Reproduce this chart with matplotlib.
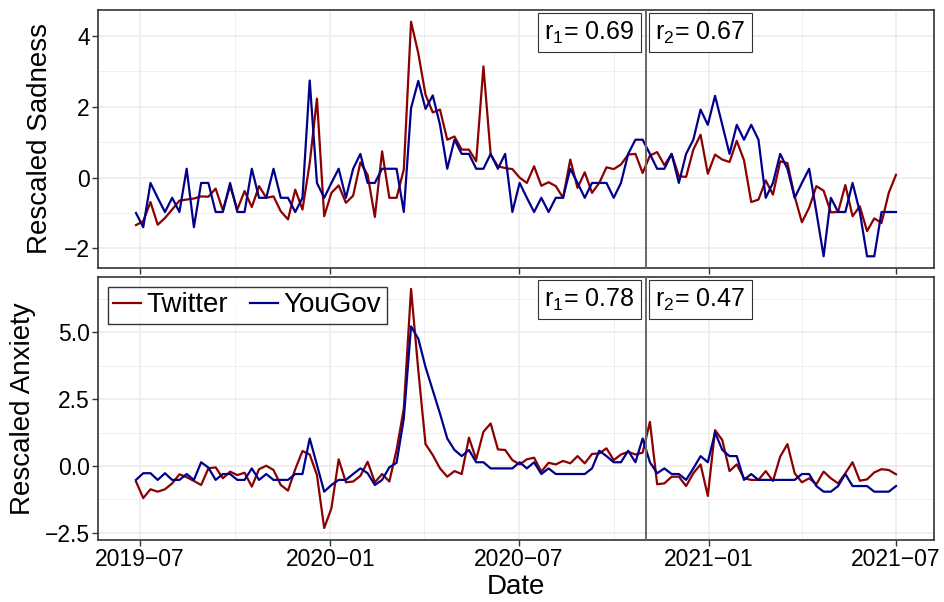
import matplotlib
matplotlib.use('Agg')
import matplotlib.pyplot as plt
import matplotlib.dates as mdates
import matplotlib.ticker as mticker
import matplotlib.transforms as mtransforms
import pandas as pd

plt.rcParams['font.family'] = ['Liberation Sans', 'DejaVu Sans']
plt.rcParams['axes.unicode_minus'] = True
plt.rcParams['mathtext.fontset'] = 'custom'
plt.rcParams['mathtext.rm'] = 'Liberation Sans'
plt.rcParams['mathtext.it'] = 'Liberation Sans:italic'

# weekly series, first week and split date
start_date = '2019-06-27'
n_weeks = 106
split_date = '2020-11-01'

sad_twitter = [-1.34, -1.23, -0.69, -1.33, -1.14, -0.9, -0.65, -0.62, -0.59, -0.53,
               -0.54, -0.31, -0.92, -0.24, -0.9, -0.38, -0.83, -0.24, -0.57, -0.53,
               -0.95, -1.18, -0.34, -0.9, 0.41, 2.23, -1.09, -0.43, -0.22, -0.71,
               -0.51, 0.43, 0.08, -1.11, 0.74, -0.57, -0.57, 0.23, 4.4, 3.51,
               2.34, 1.84, 1.92, 1.07, 1.16, 0.79, 0.79, 0.46, 3.14, 0.65,
               0.32, 0.27, 0.24, 0.0, -0.15, 0.32, -0.23, -0.13, -0.24, -0.57,
               0.51, -0.29, 0.15, -0.43, -0.15, 0.29, 0.24, 0.37, 0.65, 0.67,
               0.13, 0.62, 0.72, 0.35, 0.67, 0.04, 0.02, 0.79, 1.21, 0.11,
               0.65, 0.51, 0.44, 1.04, 0.49, -0.69, -0.62, -0.08, -0.48, 0.46,
               0.41, -0.53, -1.26, -0.85, -0.24, -0.37, -0.98, -0.97, -0.21, -1.09,
               -0.81, -1.51, -1.15, -1.28, -0.43, 0.08]
sad_yougov = [-1.0, -1.4, -0.15, -0.57, -0.97, -0.57, -0.97, 0.25, -1.4, -0.15,
              -0.15, -0.97, -0.97, -0.15, -0.97, -0.97, 0.25, -0.57, -0.57, 0.25,
              -0.57, -0.57, -0.97, -0.57, 2.74, -0.15, -0.57, -0.15, 0.25, -0.57,
              0.25, 0.67, -0.15, -0.15, 0.25, 0.25, 0.25, -0.97, 1.96, 2.73,
              1.94, 2.32, 1.49, 0.25, 1.07, 0.67, 0.67, 0.25, 0.25, 0.67,
              0.25, 0.67, -0.97, -0.15, -0.57, -0.97, -0.57, -0.97, -0.57, -0.57,
              0.25, -0.15, -0.57, -0.15, -0.15, -0.15, -0.57, -0.15, 0.67, 1.07,
              1.07, 0.67, 0.25, 0.25, 0.67, -0.15, 0.67, 1.07, 1.92, 1.49,
              2.31, 1.49, 0.67, 1.49, 1.07, 1.49, 1.07, -0.57, -0.15, 0.67,
              0.25, -0.57, -0.15, 0.25, -0.97, -2.22, -0.57, -0.97, -0.97, -0.15,
              -0.97, -2.22, -2.22, -0.97, -0.97, -0.97]
anx_twitter = [-0.58, -1.2, -0.87, -0.96, -0.87, -0.65, -0.31, -0.42, -0.56, -0.71,
               -0.09, -0.05, -0.46, -0.21, -0.34, -0.25, -0.77, -0.12, 0.01, -0.15,
               -0.71, -0.92, -0.12, 0.56, 0.43, -0.34, -2.32, -1.58, 0.25, -0.61,
               -0.58, -0.37, 0.16, -0.61, -0.3, -0.58, 0.6, 2.15, 6.62, 3.58,
               0.82, 0.41, -0.09, -0.4, -0.19, -0.3, 1.06, 0.25, 1.28, 1.59,
               0.62, 0.6, 0.22, 0.06, 0.25, 0.31, -0.21, 0.12, 0.06, 0.19,
               0.1, 0.37, 0.1, 0.45, 0.47, 0.66, 0.22, 0.43, 0.53, 0.43,
               0.5, 1.65, -0.68, -0.65, -0.4, -0.4, -0.75, -0.27, 0.06, -1.12,
               1.34, 0.97, -0.19, 0.06, -0.46, -0.52, -0.52, -0.19, -0.56, 0.35,
               0.82, -0.27, -0.61, -0.46, -0.68, -0.21, -0.46, -0.65, -0.27, 0.14,
               -0.55, -0.5, -0.24, -0.12, -0.15, -0.31]
anx_yougov = [-0.52, -0.27, -0.27, -0.52, -0.27, -0.52, -0.52, -0.3, -0.52, 0.14,
              -0.06, -0.52, -0.3, -0.3, -0.52, -0.52, -0.09, -0.52, -0.3, -0.52,
              -0.52, -0.52, -0.3, -0.3, 1.03, 0.04, -0.96, -0.71, -0.52, -0.52,
              -0.3, -0.09, -0.27, -0.71, -0.52, -0.05, 0.12, 1.78, 5.22, 4.76,
              3.7, 2.83, 1.96, 1.03, 0.6, 0.37, 0.6, 0.14, 0.14, -0.09,
              -0.09, -0.09, -0.09, 0.14, -0.09, 0.14, -0.3, -0.09, -0.3, -0.3,
              -0.3, -0.3, -0.3, -0.09, 0.57, 0.37, 0.14, 0.14, 0.57, 0.14,
              1.03, 0.14, -0.27, -0.09, -0.3, -0.3, -0.52, -0.09, 0.37, 0.14,
              1.25, 0.6, 0.37, 0.37, -0.52, -0.3, -0.52, -0.52, -0.52, -0.52,
              -0.52, -0.52, -0.3, -0.3, -0.75, -0.96, -0.96, -0.75, -0.3, -0.75,
              -0.75, -0.75, -0.96, -0.96, -0.96, -0.75]

r_sad = ['0.69', '0.67']
r_anx = ['0.78', '0.47']

dates = pd.date_range(start_date, periods=n_weeks, freq='7D')
split = pd.Timestamp(split_date)
split_num = mdates.date2num(split)

RED = '#8B0000'
BLUE = '#00008B'
DARK = '#333333'

fig = plt.figure(figsize=(9.45, 6.02), dpi=100)
ax1 = fig.add_axes([98 / 945, 1 - 268 / 602, 836 / 945, 258 / 602])
ax2 = fig.add_axes([98 / 945, 1 - 540 / 602, 836 / 945, 263 / 602])


def style_axis(ax, ymajor, yminor, yfmt):
    ax.set_facecolor('white')
    ax.xaxis.set_major_locator(mdates.MonthLocator(bymonth=[1, 7]))
    ax.xaxis.set_minor_locator(mdates.MonthLocator(bymonth=[4, 10]))
    ax.xaxis.set_major_formatter(mdates.DateFormatter('%Y\u2212%m'))
    ax.yaxis.set_major_locator(mticker.FixedLocator(ymajor))
    ax.yaxis.set_minor_locator(mticker.FixedLocator(yminor))
    ax.yaxis.set_major_formatter(mticker.FuncFormatter(
        lambda v, p: (yfmt % v).replace('-', '\u2212')))
    ax.grid(which='major', color='#EBEBEB', lw=1.1)
    ax.grid(which='minor', color='#EBEBEB', lw=0.55)
    ax.set_axisbelow(True)
    for s in ax.spines.values():
        s.set_color(DARK)
        s.set_linewidth(1.2)
    ax.tick_params(which='major', length=4, width=1.0, color=DARK,
                   labelsize=16.5, labelcolor='black', pad=2)
    ax.tick_params(which='minor', length=0)
    ax.axvline(split, color='#666666', lw=1.4, zorder=3)


def add_r(ax, r1, r2):
    trans = mtransforms.blended_transform_factory(ax.transData, ax.transAxes)
    box = dict(boxstyle='square,pad=0.25', fc='white', ec=DARK, lw=0.8)
    ax.annotate(r'r$_\mathrm{1}$= ' + r1, xy=(split_num, 1), xycoords=trans,
                xytext=(-8.1, -7.0), textcoords='offset points',
                ha='right', va='top', fontsize=18, bbox=box, zorder=5)
    ax.annotate(r'r$_\mathrm{2}$= ' + r2, xy=(split_num, 1), xycoords=trans,
                xytext=(6.9, -7.0), textcoords='offset points',
                ha='left', va='top', fontsize=18, bbox=box, zorder=5)


ax1.plot(dates, sad_twitter, color=RED, lw=1.6, label='Twitter')
ax1.plot(dates, sad_yougov, color=BLUE, lw=1.6, label='YouGov')
style_axis(ax1, [-2, 0, 2, 4], [-1, 1, 3], '%g')
ax1.tick_params(axis='x', labelbottom=False)
ax1.set_ylabel('Rescaled Sadness', fontsize=20, labelpad=8)
add_r(ax1, *r_sad)

ax2.plot(dates, anx_twitter, color=RED, lw=1.6, label='Twitter')
ax2.plot(dates, anx_yougov, color=BLUE, lw=1.6, label='YouGov')
style_axis(ax2, [-2.5, 0, 2.5, 5], [-1.25, 1.25, 3.75, 6.25], '%.1f')
ax2.set_ylabel('Rescaled Anxiety', fontsize=20, labelpad=6)
ax2.set_xlabel('Date', fontsize=20, labelpad=2)
add_r(ax2, *r_anx)

leg = ax2.legend(loc='upper left', ncol=2, fontsize=20, frameon=True,
                 fancybox=False, edgecolor='black', handlelength=1.0,
                 handletextpad=0.2, columnspacing=0.8, borderpad=0.2,
                 borderaxespad=0.35)
leg.get_frame().set_linewidth(1.0)

for ax, ys in ((ax1, sad_twitter + sad_yougov), (ax2, anx_twitter + anx_yougov)):
    lo, hi = min(ys), max(ys)
    pad = (hi - lo) * 0.05
    ax.set_ylim(lo - pad, hi + pad)
    span = dates[-1] - dates[0]
    ax.set_xlim(dates[0] - span * 0.05, dates[-1] + span * 0.05)

fig.savefig('out.png', dpi=100, facecolor='white')
